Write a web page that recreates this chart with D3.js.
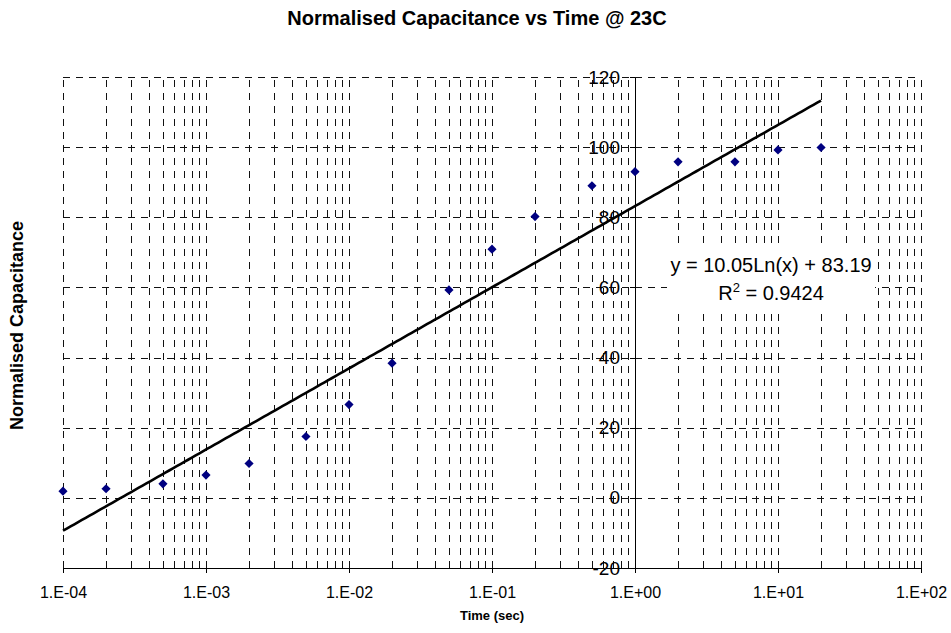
<!DOCTYPE html>
<html>
<head>
<meta charset="utf-8">
<script src="https://cdn.jsdelivr.net/npm/d3@7"></script>
<style>
  html, body { margin: 0; padding: 0; background: #fff; }
  svg { display: block; font-family: Arial, "Liberation Sans", sans-serif; }
</style>
</head>
<body>
<svg id="chart" width="951" height="633"></svg>
<script>
// ---- data ----
const times = [1e-4, 2e-4, 5e-4, 1e-3, 2e-3, 5e-3, 1e-2, 2e-2, 5e-2, 1e-1, 2e-1, 5e-1, 1, 2, 5, 10, 20];
const capacitance = [1.9, 2.6, 4.0, 6.5, 9.8, 17.5, 26.6, 38.4, 59.3, 70.9, 80.2, 89.0, 93.0, 95.8, 95.8, 99.2, 99.9];
const trendCoef = { a: 10.05, b: 83.19 };   // y = a*Ln(x) + b
const trendRange = [1e-4, 20];
const xTickValues = [1e-4, 1e-3, 1e-2, 1e-1, 1e0, 1e1, 1e2];
const xTickLabels = ["1.E-04", "1.E-03", "1.E-02", "1.E-01", "1.E+00", "1.E+01", "1.E+02"];
const yTickValues = [-20, 0, 20, 40, 60, 80, 100, 120];
const titleText = "Normalised Capacitance vs Time @ 23C";
const xTitle = "Time (sec)";
const yTitle = "Normalised Capacitance";
const eqLine1 = "y = 10.05Ln(x) + 83.19";
const eqR2 = "0.9424";

// ---- layout ----
const pL = 63, pR = 921, pT = 77, pB = 568;
const svg = d3.select("#chart");

const x = d3.scaleLog().domain([1e-4, 1e2]).range([pL, pR]);
const y = d3.scaleLinear().domain([-20, 120]).range([pB, pT]);

// minor + major vertical grid values
const vGrid = [];
for (let e = -4; e < 2; e++) for (let m = 1; m <= 9; m++) vGrid.push(m * Math.pow(10, e));
vGrid.push(1e2);

const dash = "7,6";
const gridColor = "#111";

// vertical gridlines
const vg = svg.append("g").attr("transform", `translate(0,${pB})`)
  .call(d3.axisBottom(x).tickValues(vGrid).tickSize(-(pB - pT)).tickFormat(""));
vg.select(".domain").remove();
vg.selectAll("line").attr("stroke", gridColor).attr("stroke-width", 1).attr("stroke-dasharray", dash).attr("shape-rendering", "crispEdges");

// horizontal gridlines
const hg = svg.append("g").attr("transform", `translate(${pL},0)`)
  .call(d3.axisLeft(y).tickValues(yTickValues.filter(v => v > -20)).tickSize(-(pR - pL)).tickFormat(""));
hg.select(".domain").remove();
hg.selectAll("line").attr("stroke", gridColor).attr("stroke-width", 1).attr("stroke-dasharray", dash).attr("shape-rendering", "crispEdges");

// x axis (bottom)
const xa = svg.append("g").attr("transform", `translate(0,${pB})`)
  .call(d3.axisBottom(x).tickValues(xTickValues).tickSize(5).tickSizeOuter(0).tickPadding(14)
    .tickFormat((d, i) => xTickLabels[i]));
xa.select(".domain").attr("stroke", "#000").attr("shape-rendering", "crispEdges");
xa.selectAll("line").attr("stroke", "#000").attr("shape-rendering", "crispEdges");
xa.selectAll("text").attr("font-size", 16).attr("fill", "#000")
  .attr("font-family", "Arial, 'Liberation Sans', sans-serif");

// y axis (at x = 1)
const ya = svg.append("g").attr("transform", `translate(${x(1)},0)`)
  .call(d3.axisLeft(y).tickValues(yTickValues).tickSize(5).tickSizeOuter(0).tickPadding(10)
    .tickFormat(d => String(d)));
ya.select(".domain").attr("stroke", "#000").attr("shape-rendering", "crispEdges");
ya.selectAll("line").attr("stroke", "#000").attr("shape-rendering", "crispEdges");
ya.selectAll("text").attr("font-size", 19).attr("fill", "#000")
  .attr("font-family", "Arial, 'Liberation Sans', sans-serif");

// trendline
const trendData = d3.range(0, 201).map(i => {
  const lx = Math.log10(trendRange[0]) + i / 200 * (Math.log10(trendRange[1]) - Math.log10(trendRange[0]));
  const xv = Math.pow(10, lx);
  return [xv, trendCoef.a * Math.log(xv) + trendCoef.b];
});
svg.append("path")
  .datum(trendData)
  .attr("fill", "none").attr("stroke", "#000").attr("stroke-width", 2.6)
  .attr("d", d3.line().x(d => x(d[0])).y(d => y(d[1])));

// markers
svg.append("g").selectAll("path")
  .data(times.map((t, i) => [t, capacitance[i]]))
  .join("path")
  .attr("d", d3.symbol(d3.symbolSquare, 42))
  .attr("transform", d => `translate(${x(d[0])},${y(d[1])}) rotate(45)`)
  .attr("fill", "#000080");

// equation label box
svg.append("rect").attr("x", 667).attr("y", 247).attr("width", 208).attr("height", 62).attr("fill", "#fff");
svg.append("text").attr("x", 771).attr("y", 272).attr("text-anchor", "middle")
  .attr("font-size", 20).text(eqLine1);
const r2 = svg.append("text").attr("x", 771).attr("y", 300).attr("text-anchor", "middle").attr("font-size", 20);
r2.append("tspan").text("R");
r2.append("tspan").attr("font-size", 13).attr("dy", -8).text("2");
r2.append("tspan").attr("dy", 8).text(" = " + eqR2);

// titles
svg.append("text").attr("x", 477).attr("y", 25).attr("text-anchor", "middle")
  .attr("font-size", 20).attr("font-weight", "bold").text(titleText);
svg.append("text").attr("x", 492).attr("y", 620).attr("text-anchor", "middle")
  .attr("font-size", 13).attr("font-weight", "bold").text(xTitle);
svg.append("text").attr("transform", `translate(23,${(pT + pB) / 2 + 3}) rotate(-90)`)
  .attr("text-anchor", "middle").attr("font-size", 18).attr("font-weight", "bold").text(yTitle);
</script>
</body>
</html>
